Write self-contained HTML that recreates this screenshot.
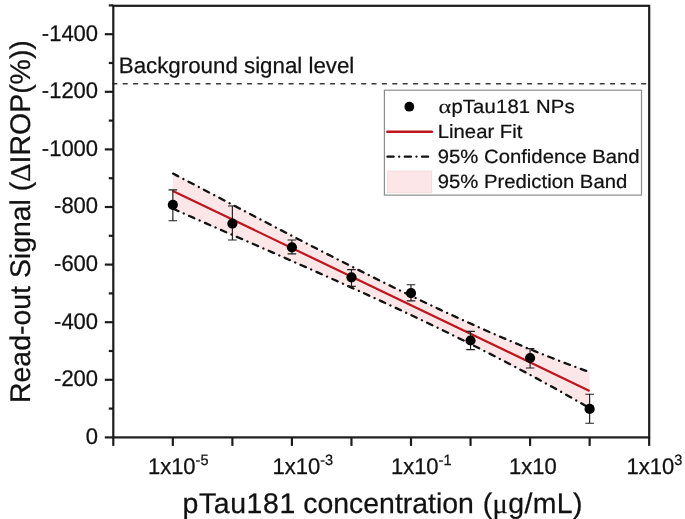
<!DOCTYPE html>
<html><head><meta charset="utf-8"><style>
html,body{margin:0;padding:0;background:#fff;}
svg{display:block;will-change:transform;}
text{text-rendering:geometricPrecision;font-family:"Liberation Sans",sans-serif;fill:#111;stroke:#111;stroke-width:0.25px;}
.tk{font-size:22px;}
.sup{font-size:14.5px;}
.ti{font-size:28.45px;}
.gr{font-family:"Liberation Serif",serif;}
.bg{font-size:22.3px;}
.lg{font-size:20.3px;}
</style></head><body>
<svg width="685" height="519" viewBox="0 0 685 519">
<polygon points="172.84,173.14 177.01,175.32 181.18,177.50 185.34,179.68 189.51,181.86 193.68,184.05 197.85,186.23 202.01,188.42 206.18,190.60 210.35,192.79 214.52,194.98 218.69,197.17 222.85,199.36 227.02,201.55 231.19,203.74 235.36,205.93 239.52,208.12 243.69,210.30 247.86,212.49 252.03,214.68 256.20,216.86 260.36,219.05 264.53,221.23 268.70,223.41 272.87,225.59 277.03,227.76 281.20,229.94 285.37,232.11 289.54,234.28 293.71,236.44 297.87,238.61 302.04,240.77 306.21,242.92 310.38,245.08 314.55,247.23 318.71,249.37 322.88,251.51 327.05,253.65 331.22,255.78 335.38,257.91 339.55,260.03 343.72,262.15 347.89,264.27 352.06,266.37 356.22,268.48 360.39,270.57 364.56,272.66 368.73,274.75 372.89,276.83 377.06,278.90 381.23,280.96 385.40,283.02 389.57,285.07 393.73,287.12 397.90,289.16 402.07,291.19 406.24,293.21 410.40,295.22 414.57,297.23 418.74,299.23 422.91,301.22 427.08,303.20 431.24,305.17 435.41,307.13 439.58,309.09 443.75,311.03 447.91,312.97 452.08,314.89 456.25,316.81 460.42,318.71 464.59,320.61 468.75,322.50 472.92,324.37 477.09,326.23 481.26,328.09 485.42,329.93 489.59,331.76 493.76,333.58 497.93,335.39 502.10,337.18 506.26,338.97 510.43,340.74 514.60,342.50 518.77,344.24 522.94,345.98 527.10,347.70 531.27,349.40 535.44,351.10 539.61,352.78 543.77,354.45 547.94,356.10 552.11,357.74 556.28,359.37 560.45,360.98 564.61,362.57 568.78,364.16 572.95,365.72 577.12,367.28 581.28,368.81 585.45,370.33 589.62,371.84 589.62,408.41 585.45,405.99 581.28,403.59 577.12,401.20 572.95,398.82 568.78,396.46 564.61,394.11 560.45,391.77 556.28,389.45 552.11,387.13 547.94,384.84 543.77,382.55 539.61,380.28 535.44,378.02 531.27,375.77 527.10,373.53 522.94,371.31 518.77,369.10 514.60,366.89 510.43,364.70 506.26,362.52 502.10,360.36 497.93,358.20 493.76,356.05 489.59,353.92 485.42,351.79 481.26,349.67 477.09,347.57 472.92,345.47 468.75,343.38 464.59,341.31 460.42,339.24 456.25,337.18 452.08,335.13 447.91,333.09 443.75,331.05 439.58,329.03 435.41,327.01 431.24,325.00 427.08,323.00 422.91,321.01 418.74,319.02 414.57,317.04 410.40,315.07 406.24,313.11 402.07,311.15 397.90,309.20 393.73,307.26 389.57,305.32 385.40,303.39 381.23,301.46 377.06,299.54 372.89,297.63 368.73,295.72 364.56,293.82 360.39,291.92 356.22,290.02 352.06,288.14 347.89,286.25 343.72,284.37 339.55,282.50 335.38,280.62 331.22,278.76 327.05,276.89 322.88,275.03 318.71,273.18 314.55,271.32 310.38,269.47 306.21,267.62 302.04,265.78 297.87,263.94 293.71,262.10 289.54,260.26 285.37,258.42 281.20,256.59 277.03,254.76 272.87,252.93 268.70,251.10 264.53,249.27 260.36,247.44 256.20,245.62 252.03,243.79 247.86,241.97 243.69,240.14 239.52,238.32 235.36,236.49 231.19,234.67 227.02,232.84 222.85,231.02 218.69,229.19 214.52,227.36 210.35,225.53 206.18,223.70 202.01,221.87 197.85,220.04 193.68,218.21 189.51,216.37 185.34,214.53 181.18,212.69 177.01,210.85 172.84,209.00" fill="#fde6e8" stroke="none"/>
<line x1="172.84" y1="190.90" x2="589.62" y2="391.00" stroke="#be161c" stroke-width="2.2"/>
<polyline points="172.84,173.44 177.01,175.62 181.18,177.80 185.34,179.98 189.51,182.16 193.68,184.35 197.85,186.53 202.01,188.72 206.18,190.90 210.35,193.09 214.52,195.28 218.69,197.47 222.85,199.66 227.02,201.85 231.19,204.04 235.36,206.23 239.52,208.42 243.69,210.60 247.86,212.79 252.03,214.98 256.20,217.16 260.36,219.35 264.53,221.53 268.70,223.71 272.87,225.89 277.03,228.06 281.20,230.24 285.37,232.41 289.54,234.58 293.71,236.74 297.87,238.91 302.04,241.07 306.21,243.22 310.38,245.38 314.55,247.53 318.71,249.67 322.88,251.81 327.05,253.95 331.22,256.08 335.38,258.21 339.55,260.33 343.72,262.45 347.89,264.57 352.06,266.67 356.22,268.78 360.39,270.87 364.56,272.96 368.73,275.05 372.89,277.13 377.06,279.20 381.23,281.26 385.40,283.32 389.57,285.37 393.73,287.42 397.90,289.46 402.07,291.49 406.24,293.51 410.40,295.52 414.57,297.53 418.74,299.53 422.91,301.52 427.08,303.50 431.24,305.47 435.41,307.43 439.58,309.39 443.75,311.33 447.91,313.27 452.08,315.19 456.25,317.11 460.42,319.01 464.59,320.91 468.75,322.80 472.92,324.67 477.09,326.53 481.26,328.39 485.42,330.23 489.59,332.06 493.76,333.88 497.93,335.69 502.10,337.48 506.26,339.27 510.43,341.04 514.60,342.80 518.77,344.54 522.94,346.28 527.10,348.00 531.27,349.70 535.44,351.40 539.61,353.08 543.77,354.75 547.94,356.40 552.11,358.04 556.28,359.67 560.45,361.28 564.61,362.87 568.78,364.46 572.95,366.02 577.12,367.58 581.28,369.11 585.45,370.63 589.62,372.14" fill="none" stroke="#111" stroke-width="2.3" stroke-dasharray="5.8 5.75 0.1 5.75" stroke-linecap="round" stroke-dashoffset="-0.3"/>
<polyline points="172.84,208.70 177.01,210.55 181.18,212.39 185.34,214.23 189.51,216.07 193.68,217.91 197.85,219.74 202.01,221.57 206.18,223.40 210.35,225.23 214.52,227.06 218.69,228.89 222.85,230.72 227.02,232.54 231.19,234.37 235.36,236.19 239.52,238.02 243.69,239.84 247.86,241.67 252.03,243.49 256.20,245.32 260.36,247.14 264.53,248.97 268.70,250.80 272.87,252.63 277.03,254.46 281.20,256.29 285.37,258.12 289.54,259.96 293.71,261.80 297.87,263.64 302.04,265.48 306.21,267.32 310.38,269.17 314.55,271.02 318.71,272.88 322.88,274.73 327.05,276.59 331.22,278.46 335.38,280.32 339.55,282.20 343.72,284.07 347.89,285.95 352.06,287.84 356.22,289.72 360.39,291.62 364.56,293.52 368.73,295.42 372.89,297.33 377.06,299.24 381.23,301.16 385.40,303.09 389.57,305.02 393.73,306.96 397.90,308.90 402.07,310.85 406.24,312.81 410.40,314.77 414.57,316.74 418.74,318.72 422.91,320.71 427.08,322.70 431.24,324.70 435.41,326.71 439.58,328.73 443.75,330.75 447.91,332.79 452.08,334.83 456.25,336.88 460.42,338.94 464.59,341.01 468.75,343.08 472.92,345.17 477.09,347.27 481.26,349.37 485.42,351.49 489.59,353.62 493.76,355.75 497.93,357.90 502.10,360.06 506.26,362.22 510.43,364.40 514.60,366.59 518.77,368.80 522.94,371.01 527.10,373.23 531.27,375.47 535.44,377.72 539.61,379.98 543.77,382.25 547.94,384.54 552.11,386.83 556.28,389.15 560.45,391.47 564.61,393.81 568.78,396.16 572.95,398.52 577.12,400.90 581.28,403.29 585.45,405.69 589.62,408.11" fill="none" stroke="#111" stroke-width="2.3" stroke-dasharray="5.8 5.75 0.1 5.75" stroke-linecap="round" stroke-dashoffset="-0.3"/>
<path d="M172.84,189.9 V220.7 M168.54,189.9 h8.6 M168.54,220.7 h8.6" stroke="#1e1e1e" stroke-width="1.15" fill="none"/>
<circle cx="172.84" cy="204.8" r="5.1" fill="#000"/>
<path d="M232.38,206 V240 M228.08,206 h8.6 M228.08,240 h8.6" stroke="#1e1e1e" stroke-width="1.15" fill="none"/>
<circle cx="232.38" cy="223.6" r="5.1" fill="#000"/>
<path d="M291.92,240 V253.9 M287.62,240 h8.6 M287.62,253.9 h8.6" stroke="#1e1e1e" stroke-width="1.15" fill="none"/>
<circle cx="291.92" cy="247.3" r="5.1" fill="#000"/>
<path d="M351.46,269.6 V286.3 M347.16,269.6 h8.6 M347.16,286.3 h8.6" stroke="#1e1e1e" stroke-width="1.15" fill="none"/>
<circle cx="351.46" cy="277.3" r="5.1" fill="#000"/>
<path d="M411.00,284.7 V300.8 M406.70,284.7 h8.6 M406.70,300.8 h8.6" stroke="#1e1e1e" stroke-width="1.15" fill="none"/>
<circle cx="411.00" cy="293.1" r="5.1" fill="#000"/>
<path d="M470.54,331.3 V349.6 M466.24,331.3 h8.6 M466.24,349.6 h8.6" stroke="#1e1e1e" stroke-width="1.15" fill="none"/>
<circle cx="470.54" cy="340.5" r="5.1" fill="#000"/>
<path d="M530.08,348.6 V368 M525.78,348.6 h8.6 M525.78,368 h8.6" stroke="#1e1e1e" stroke-width="1.15" fill="none"/>
<circle cx="530.08" cy="358" r="5.1" fill="#000"/>
<path d="M589.62,394.2 V423.2 M585.32,394.2 h8.6 M585.32,423.2 h8.6" stroke="#1e1e1e" stroke-width="1.15" fill="none"/>
<circle cx="589.62" cy="408.9" r="5.1" fill="#000"/>
<line x1="112.3" y1="83.8" x2="649.2" y2="83.8" stroke="#3a3a3a" stroke-width="1.4" stroke-dasharray="5 5.37"/>
<rect x="113.3" y="5.8" width="535.90" height="431.60" fill="none" stroke="#1c1c1c" stroke-width="2.2"/>
<line x1="104.80" y1="437.40" x2="113.3" y2="437.40" stroke="#1c1c1c" stroke-width="2.2"/>
<text transform="translate(98.10,443.75) scale(1,1.03)" class="tk" text-anchor="end">0</text>
<line x1="108.80" y1="408.60" x2="113.3" y2="408.60" stroke="#1c1c1c" stroke-width="2.2"/>
<line x1="104.80" y1="379.80" x2="113.3" y2="379.80" stroke="#1c1c1c" stroke-width="2.2"/>
<text transform="translate(98.10,386.15) scale(1,1.03)" class="tk" text-anchor="end">-200</text>
<line x1="108.80" y1="351.00" x2="113.3" y2="351.00" stroke="#1c1c1c" stroke-width="2.2"/>
<line x1="104.80" y1="322.20" x2="113.3" y2="322.20" stroke="#1c1c1c" stroke-width="2.2"/>
<text transform="translate(98.10,328.55) scale(1,1.03)" class="tk" text-anchor="end">-400</text>
<line x1="108.80" y1="293.40" x2="113.3" y2="293.40" stroke="#1c1c1c" stroke-width="2.2"/>
<line x1="104.80" y1="264.60" x2="113.3" y2="264.60" stroke="#1c1c1c" stroke-width="2.2"/>
<text transform="translate(98.10,270.95) scale(1,1.03)" class="tk" text-anchor="end">-600</text>
<line x1="108.80" y1="235.80" x2="113.3" y2="235.80" stroke="#1c1c1c" stroke-width="2.2"/>
<line x1="104.80" y1="207.00" x2="113.3" y2="207.00" stroke="#1c1c1c" stroke-width="2.2"/>
<text transform="translate(98.10,213.35) scale(1,1.03)" class="tk" text-anchor="end">-800</text>
<line x1="108.80" y1="178.20" x2="113.3" y2="178.20" stroke="#1c1c1c" stroke-width="2.2"/>
<line x1="104.80" y1="149.40" x2="113.3" y2="149.40" stroke="#1c1c1c" stroke-width="2.2"/>
<text transform="translate(98.10,155.75) scale(1,1.03)" class="tk" text-anchor="end">-1000</text>
<line x1="108.80" y1="120.60" x2="113.3" y2="120.60" stroke="#1c1c1c" stroke-width="2.2"/>
<line x1="104.80" y1="91.80" x2="113.3" y2="91.80" stroke="#1c1c1c" stroke-width="2.2"/>
<text transform="translate(98.10,98.15) scale(1,1.03)" class="tk" text-anchor="end">-1200</text>
<line x1="108.80" y1="63.00" x2="113.3" y2="63.00" stroke="#1c1c1c" stroke-width="2.2"/>
<line x1="104.80" y1="34.20" x2="113.3" y2="34.20" stroke="#1c1c1c" stroke-width="2.2"/>
<text transform="translate(98.10,40.55) scale(1,1.03)" class="tk" text-anchor="end">-1400</text>
<line x1="108.80" y1="5.40" x2="113.3" y2="5.40" stroke="#1c1c1c" stroke-width="2.2"/>
<line x1="113.30" y1="437.4" x2="113.30" y2="445.9" stroke="#1c1c1c" stroke-width="2.2"/>
<line x1="172.84" y1="437.4" x2="172.84" y2="445.9" stroke="#1c1c1c" stroke-width="2.2"/>
<line x1="232.38" y1="437.4" x2="232.38" y2="445.9" stroke="#1c1c1c" stroke-width="2.2"/>
<line x1="291.92" y1="437.4" x2="291.92" y2="445.9" stroke="#1c1c1c" stroke-width="2.2"/>
<line x1="351.46" y1="437.4" x2="351.46" y2="445.9" stroke="#1c1c1c" stroke-width="2.2"/>
<line x1="411.00" y1="437.4" x2="411.00" y2="445.9" stroke="#1c1c1c" stroke-width="2.2"/>
<line x1="470.54" y1="437.4" x2="470.54" y2="445.9" stroke="#1c1c1c" stroke-width="2.2"/>
<line x1="530.08" y1="437.4" x2="530.08" y2="445.9" stroke="#1c1c1c" stroke-width="2.2"/>
<line x1="589.62" y1="437.4" x2="589.62" y2="445.9" stroke="#1c1c1c" stroke-width="2.2"/>
<line x1="649.16" y1="437.4" x2="649.16" y2="445.9" stroke="#1c1c1c" stroke-width="2.2"/>
<text transform="translate(147.90,474.10) scale(1,1.03)" class="tk">1x10<tspan class="sup" dy="-8.7">-5</tspan></text>
<text transform="translate(272.50,474.10) scale(1,1.03)" class="tk">1x10<tspan class="sup" dy="-8.7">-3</tspan></text>
<text transform="translate(390.90,474.10) scale(1,1.03)" class="tk">1x10<tspan class="sup" dy="-8.7">-1</tspan></text>
<text transform="translate(509.00,474.10) scale(1,1.03)" class="tk">1x10</text>
<text transform="translate(626.50,474.10) scale(1,1.03)" class="tk">1x10<tspan class="sup" dy="-8.7">3</tspan></text>
<text transform="translate(0.00,513.00) scale(1,1.0)" class="ti"><tspan x="182.5" letter-spacing="0.6">pTau181</tspan><tspan x="303.2">concentration</tspan><tspan x="482.7" letter-spacing="0.4">(<tspan class="gr">μ</tspan>g/mL)</tspan></text>
<text transform="translate(30.20,403.00) rotate(-90) scale(1,1.0)" class="ti">Read-out Signal (<tspan class="gr">Δ</tspan>IROP(%))</text>
<text transform="translate(118.80,73.00) scale(1,1.0)" class="bg">Background signal level</text>
<rect x="384.4" y="90.2" width="257.1" height="104.9" fill="#fff" stroke="#8c8c8c" stroke-width="1.2"/>
<circle cx="409.3" cy="106.7" r="4.9" fill="#000"/>
<line x1="387.3" y1="131.7" x2="431.9" y2="131.7" stroke="#be161c" stroke-width="2.5" stroke-linecap="round"/>
<line x1="387.4" y1="156.7" x2="428.1" y2="156.7" stroke="#111" stroke-width="2.2" stroke-dasharray="6.3 5.45 0.1 5.45" stroke-linecap="round"/>
<rect x="387.4" y="171.1" width="44.3" height="21.5" fill="#fde6e8" stroke="#f3d6d9" stroke-width="0.8"/>
<text transform="translate(438.6,113.2) scale(1.2,0.97)" class="lg gr" style="stroke-width:0.1px">α</text>
<text transform="translate(451.40,113.00) scale(1,0.95)" class="lg" letter-spacing="0.15">pTau181 NPs</text>
<text transform="translate(437.80,138.20) scale(1,0.95)" class="lg">Linear Fit</text>
<text transform="translate(437.80,163.20) scale(1,0.95)" class="lg">95% Confidence Band</text>
<text transform="translate(437.80,188.20) scale(1,0.95)" class="lg">95% Prediction Band</text>
</svg>
</body></html>
